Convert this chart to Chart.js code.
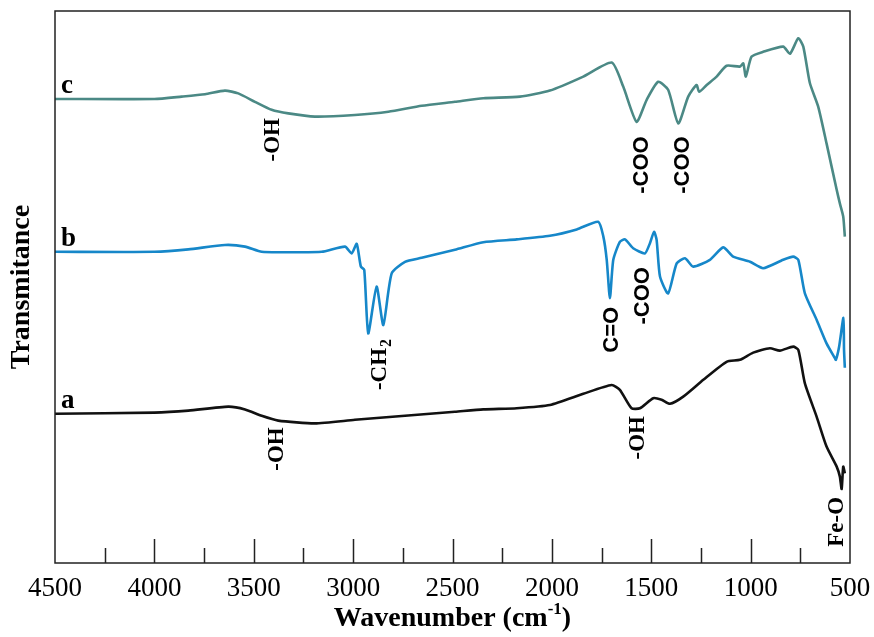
<!DOCTYPE html>
<html>
<head>
<meta charset="utf-8">
<script src="https://cdn.jsdelivr.net/npm/chart.js@4"></script>
<style>
    html, body { margin: 0; padding: 0; background: #fff; }
    .chart-box { width: 874px; height: 637px; }
</style>
</head>
<body>
<div class="chart-box"><canvas id="ftir-chart" width="874" height="637"></canvas></div>
<script>

// spectrum c (top, teal)
const cWave = [4500, 4000, 3863, 3745, 3645, 3578, 3494, 3410, 3326, 3192, 2991, 2823, 2655, 2488, 2345, 2161, 2010, 1842, 1699, 1641, 1574, 1523, 1465, 1415, 1364, 1314, 1272, 1259, 1221, 1171, 1121, 1054, 1037, 1024, 995, 937, 836, 802, 760, 735, 702, 660, 618, 567, 551, 534, 526];
const cTrans = [116, 116, 116.6, 117.2, 118.1, 117.4, 115.3, 113.3, 112.4, 111.6, 112, 112.8, 114.3, 115.3, 116.2, 116.6, 118.1, 121.6, 125.1, 119.1, 110.3, 115.8, 120.3, 118.3, 109.9, 116.6, 119.5, 117.8, 119.5, 121.6, 124.3, 124.1, 124.9, 121.6, 126.6, 127.8, 129.1, 127.3, 131.2, 129.1, 120, 114.1, 104.9, 93.3, 89.9, 86.6, 81.6];

// spectrum b (middle, blue)
const bWave = [4500, 4000, 3829, 3645, 3544, 3460, 3326, 3158, 3041, 3007, 2982, 2961, 2944, 2924, 2882, 2848, 2806, 2739, 2655, 2488, 2345, 2177, 2010, 1875, 1767, 1741, 1724, 1708, 1691, 1658, 1632, 1591, 1532, 1507, 1486, 1473, 1456, 1415, 1372, 1330, 1289, 1205, 1138, 1088, 1003, 937, 836, 786, 760, 727, 668, 618, 576, 571, 555, 533, 530, 526];
const bTrans = [77.8, 77.8, 78.4, 79.5, 79.1, 77.8, 77.7, 77.8, 79.1, 77.4, 79.8, 74.1, 73.3, 57.4, 69.1, 59.5, 72.4, 75.3, 76.3, 78.3, 80.2, 80.9, 81.8, 83.4, 85.3, 81.6, 75.8, 66.2, 75.8, 80.3, 80.9, 78.7, 77.4, 79.9, 82.8, 80.8, 71.6, 67.4, 74.9, 76.2, 74.1, 75.8, 78.9, 76.6, 75.3, 73.7, 75.8, 76.6, 75.8, 67.4, 60.8, 54.9, 51.2, 50.8, 54, 61.3, 53.3, 48.8];

// spectrum a (bottom, black)
const aWave = [4500, 4000, 3829, 3628, 3544, 3460, 3377, 3192, 2991, 2739, 2488, 2345, 2177, 2010, 1842, 1699, 1658, 1599, 1557, 1490, 1448, 1406, 1339, 1238, 1121, 1054, 987, 903, 853, 786, 760, 727, 668, 618, 567, 551, 542, 534, 526];
const aTrans = [37.3, 37.6, 38.1, 39.1, 38.4, 36.8, 35.6, 34.9, 35.8, 36.8, 37.8, 38.4, 38.7, 39.5, 42.3, 44.5, 43.3, 38.7, 38.7, 41.2, 40.8, 39.8, 41.6, 45.8, 50.3, 50.8, 52.6, 53.7, 53.1, 54.1, 53.3, 44.9, 36.6, 29.1, 24.1, 21.6, 18.5, 24.1, 22.4];

// axis ticks
const xTickLabels = [4500, 4000, 3500, 3000, 2500, 2000, 1500, 1000, 500];
const majorTicks = [4000, 3500, 3000, 2500, 2000, 1500, 1000];
const minorTicks = [4250, 3750, 3250, 2750, 2250, 1750, 1250, 750];

// curve names and where they sit
const curveNames = ['c', 'b', 'a'];
const curveNameY = [117.5, 79.3, 38.8];

// band labels: text, wavenumber, transmittance (centre of label)
const bandText = ['-OH', '-COO', '-COO', '-CH', 'C=O', '-COO', '-OH', '-OH', 'Fe-O'];
const bandWave = [3403, 1547, 1340, 2865, 1698, 1542, 3383, 1567, 566];
const bandTrans = [105.8, 99.5, 99.5, 49.5, 58.3, 66.8, 28.5, 31.3, 10.3];
const bandSans = [false, true, true, false, true, true, false, false, false];

const serif = '"Liberation Serif", "Times New Roman", serif';
const sans = '"Liberation Sans", Arial, sans-serif';

Chart.defaults.font.family = serif;

function toPoints(xs, ys) {
    return xs.map((v, i) => ({ x: v, y: ys[i] }));
}

const decor = {
    id: 'decor',
    afterDraw(chart) {
        const ctx = chart.ctx;
        const { left, top, right, bottom } = chart.chartArea;
        const x = chart.scales.x, y = chart.scales.y;

        ctx.save();
        ctx.strokeStyle = '#222';
        ctx.lineWidth = 1.5;
        ctx.strokeRect(left, top, right - left, bottom - top);

        // inward ticks on the bottom axis
        ctx.beginPath();
        majorTicks.forEach(v => {
            const px = Math.round(x.getPixelForValue(v)) + 0.5;
            ctx.moveTo(px, bottom);
            ctx.lineTo(px, bottom - 24);
        });
        minorTicks.forEach(v => {
            const px = Math.round(x.getPixelForValue(v)) + 0.5;
            ctx.moveTo(px, bottom);
            ctx.lineTo(px, bottom - 15);
        });
        ctx.stroke();

        ctx.fillStyle = '#000';

        // a, b, c
        ctx.font = 'bold 27px ' + serif;
        ctx.textAlign = 'left';
        ctx.textBaseline = 'alphabetic';
        curveNames.forEach((n, i) => {
            ctx.fillText(n, left + 6, y.getPixelForValue(curveNameY[i]));
        });

        // band labels, rotated
        bandText.forEach((t, i) => {
            const px = x.getPixelForValue(bandWave[i]);
            const py = y.getPixelForValue(bandTrans[i]);
            ctx.save();
            ctx.translate(px, py);
            ctx.rotate(-Math.PI / 2);
            ctx.textBaseline = 'middle';
            if (bandSans[i]) {
                ctx.font = 'bold 22px ' + sans;
            } else {
                ctx.font = 'bold 23px ' + serif;
            }
            if (t === '-CH') {
                // subscript 2
                const w1 = ctx.measureText(t).width;
                ctx.font = 'bold 16px ' + serif;
                const w2 = ctx.measureText('2').width;
                const start = -(w1 + w2) / 2;
                ctx.textAlign = 'left';
                ctx.fillText('2', start + w1 + 1, 7);
                ctx.font = 'bold 23px ' + serif;
                ctx.fillText(t, start, 0);
            } else {
                ctx.textAlign = 'center';
                ctx.fillText(t, 0, 0);
            }
            ctx.restore();
        });

        // y title
        ctx.save();
        ctx.translate(22, (top + bottom) / 2);
        ctx.rotate(-Math.PI / 2);
        ctx.font = 'bold 28px ' + serif;
        ctx.textAlign = 'center';
        ctx.textBaseline = 'middle';
        ctx.fillText('Transmitance', 0, 0);
        ctx.restore();

        // x title with superscript
        ctx.font = 'bold 28px ' + serif;
        const p1 = 'Wavenumber (cm', p3 = ')';
        const w1 = ctx.measureText(p1).width;
        const w3 = ctx.measureText(p3).width;
        ctx.font = 'bold 17px ' + serif;
        const w2 = ctx.measureText('-1').width;
        let sx = (left + right) / 2 - (w1 + w2 + w3) / 2;
        const base = 626;
        ctx.textAlign = 'left';
        ctx.textBaseline = 'alphabetic';
        ctx.font = 'bold 28px ' + serif;
        ctx.fillText(p1, sx, base);
        ctx.font = 'bold 17px ' + serif;
        ctx.fillText('-1', sx + w1, base - 12);
        ctx.font = 'bold 28px ' + serif;
        ctx.fillText(p3, sx + w1 + w2, base);

        ctx.restore();
    }
};

const ctx = document.getElementById('ftir-chart').getContext('2d');
const ftirChart = new Chart(ctx, {
    type: 'line',
    data: {
        datasets: [
            {
                label: 'c',
                data: toPoints(cWave, cTrans),
                borderColor: '#4b8985',
                borderWidth: 2.6,
                pointRadius: 0,
                tension: 0.2,
                fill: false
            },
            {
                label: 'b',
                data: toPoints(bWave, bTrans),
                borderColor: '#1687c9',
                borderWidth: 2.6,
                pointRadius: 0,
                tension: 0.2,
                fill: false
            },
            {
                label: 'a',
                data: toPoints(aWave, aTrans),
                borderColor: '#111111',
                borderWidth: 2.6,
                pointRadius: 0,
                tension: 0.2,
                fill: false
            }
        ]
    },
    options: {
        responsive: false,
        animation: false,
        layout: {
            padding: { left: 55, right: 24, top: 11, bottom: 0 }
        },
        plugins: {
            legend: { display: false },
            tooltip: { enabled: false }
        },
        scales: {
            x: {
                type: 'linear',
                reverse: true,
                min: 500,
                max: 4500,
                grid: { display: false, drawTicks: false },
                border: { display: false },
                afterBuildTicks: (scale) => {
                    scale.ticks = xTickLabels.map(v => ({ value: v }));
                },
                afterFit: (scale) => {
                    scale.height = 74;
                    // let the layout padding alone decide the plot edges
                    scale.paddingLeft = 0;
                    scale.paddingRight = 0;
                },
                ticks: {
                    autoSkip: false,
                    maxRotation: 0,
                    padding: 10,
                    color: '#000',
                    font: { family: serif, size: 27 },
                    callback: (v) => String(v)
                }
            },
            y: {
                display: false,
                min: 0,
                max: 138
            }
        }
    },
    plugins: [decor]
});

</script>
</body>
</html>
